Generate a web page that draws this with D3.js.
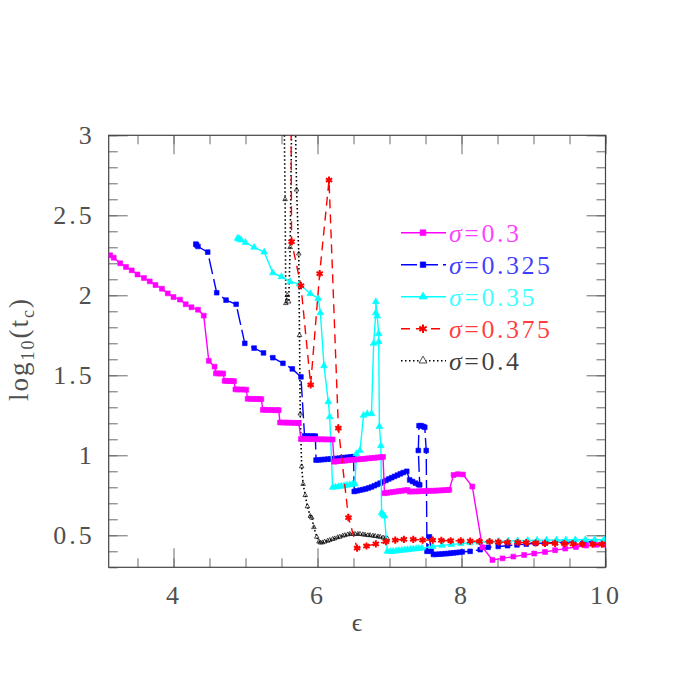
<!DOCTYPE html>
<html>
<head>
<meta charset="utf-8">
<title>log10(tc) vs epsilon</title>
<style>
  body{margin:0;background:#fff;}
  text{font-family:"Liberation Serif",serif;}
</style>
</head>
<body>
<script src="https://d3js.org/d3.v7.min.js"></script>
<script>
// ---- data: [epsilon, log10(tc)] ----
var sigma300 = [[3.12,2.25],[3.17,2.235],[3.26,2.20],[3.34,2.177],[3.42,2.156],[3.50,2.13],[3.59,2.108],[3.67,2.087],
  [3.75,2.064],[3.84,2.041],[3.92,2.012],[4.00,1.989],[4.09,1.973],[4.17,1.944],[4.25,1.925],[4.34,1.91],[4.42,1.873],
  [4.49,1.59],[4.57,1.554],
  [4.59,1.512],[4.62,1.512],[4.65,1.511],[4.69,1.511],
  [4.71,1.465],[4.74,1.465],[4.77,1.464],[4.81,1.464],[4.84,1.463],
  [4.86,1.412],[4.89,1.412],[4.93,1.411],[4.97,1.411],[5.01,1.410],
  [5.03,1.353],[5.07,1.353],[5.11,1.352],[5.15,1.352],[5.19,1.351],[5.22,1.351],
  [5.24,1.284],[5.28,1.284],[5.32,1.283],[5.36,1.283],[5.40,1.282],[5.44,1.282],[5.46,1.282],
  [5.48,1.205],[5.52,1.205],[5.56,1.204],[5.60,1.204],[5.64,1.203],[5.68,1.203],[5.72,1.202],[5.74,1.202],
  [5.77,1.102],[5.81,1.102],[5.85,1.102],[5.89,1.101],[5.93,1.101],[5.97,1.101],[6.01,1.100],[6.05,1.100],
  [6.09,1.100],[6.13,1.099],[6.17,1.099],[6.21,1.099],
  [6.23,0.960],[6.27,0.962],[6.31,0.964],[6.35,0.965],[6.39,0.967],[6.43,0.969],[6.47,0.971],[6.51,0.972],
  [6.55,0.974],[6.59,0.976],[6.63,0.977],[6.67,0.979],[6.71,0.981],[6.75,0.983],[6.79,0.984],[6.83,0.986],
  [6.87,0.988],[6.91,0.990],
  [6.93,0.763],[6.97,0.766],[7.01,0.768],[7.05,0.771],[7.09,0.773],[7.13,0.776],[7.17,0.778],[7.21,0.781],[7.25,0.783],
  [7.28,0.773],[7.32,0.774],[7.36,0.774],[7.40,0.775],[7.44,0.776],[7.48,0.776],[7.52,0.777],[7.56,0.778],
  [7.60,0.778],[7.64,0.779],[7.68,0.780],[7.72,0.781],[7.76,0.782],[7.80,0.783],[7.83,0.784],
  [7.89,0.877],[7.95,0.882],[8.02,0.880],[8.15,0.805],[8.29,0.425],[8.43,0.346],[8.57,0.356],[8.72,0.367],
  [8.87,0.377],[9.01,0.386],[9.16,0.396],[9.30,0.407],[9.44,0.417],[9.59,0.427],[9.73,0.436],[9.87,0.44],[10.0,0.44]];

var sigma325 = [[4.31,2.32],[4.32,2.315],[4.34,2.305],[4.475,2.27],[4.60,2.016],[4.73,1.97],[4.87,1.944],[4.99,1.70],
  [5.12,1.67],[5.25,1.64],[5.38,1.61],[5.52,1.575],[5.65,1.54],[5.77,1.49],
  [5.82,1.121],[5.86,1.121],[5.90,1.120],[5.94,1.120],[5.97,1.120],
  [5.98,0.970],[6.02,0.971],[6.06,0.973],[6.10,0.974],[6.14,0.976],[6.18,0.977],[6.22,0.979],[6.26,0.980],
  [6.30,0.982],[6.34,0.984],[6.38,0.986],[6.42,0.988],[6.46,0.990],[6.50,0.992],
  [6.51,0.774],[6.55,0.778],[6.59,0.782],[6.63,0.786],[6.67,0.790],[6.71,0.796],[6.75,0.802],[6.79,0.810],
  [6.83,0.818],[6.87,0.826],[6.91,0.835],[6.95,0.843],[6.99,0.852],[7.03,0.860],[7.07,0.868],[7.11,0.876],
  [7.15,0.884],[7.19,0.892],[7.24,0.900],
  [7.28,0.846],[7.32,0.836],[7.36,0.826],[7.40,0.818],[7.42,0.815],
  [7.40,1.03],[7.41,1.185],[7.44,1.185],[7.47,1.18],[7.49,1.175],[7.51,1.03],
  [7.52,0.40],[7.555,0.49],[7.58,0.40],
  [7.61,0.380],[7.65,0.381],[7.69,0.382],[7.73,0.383],[7.77,0.385],[7.81,0.386],[7.85,0.388],[7.89,0.390],
  [7.93,0.392],[7.97,0.394],[8.01,0.396],
  [8.12,0.40],[8.26,0.41],[8.37,0.425],[8.51,0.43],[8.64,0.435],[8.77,0.44],[8.90,0.445],[9.03,0.45],
  [9.16,0.452],[9.30,0.455],[9.43,0.457],[9.56,0.458],[9.70,0.46],[9.83,0.46],[9.97,0.46]];

var sigma350 = [[4.89,2.356],[4.905,2.354],[4.92,2.35],[4.94,2.345],[5.00,2.33],[5.12,2.30],[5.26,2.27],[5.38,2.14],
  [5.50,2.116],[5.62,2.085],[5.75,2.07],[5.90,2.01],[6.01,1.98],[6.04,1.89],[6.09,1.56],[6.15,1.335],[6.17,1.24],
  [6.21,0.80],[6.25,0.801],[6.29,0.804],[6.33,0.807],[6.37,0.810],[6.41,0.813],[6.45,0.816],[6.49,0.819],[6.52,0.822],
  [6.54,1.01],[6.59,1.03],[6.64,1.25],[6.69,1.26],[6.75,1.26],[6.78,1.70],[6.81,1.89],[6.81,1.96],[6.83,1.87],
  [6.85,1.76],[6.85,1.71],[6.86,1.18],[6.88,1.06],[6.89,0.64],[6.91,0.63],[6.93,0.62],[6.97,0.40],
  [7.01,0.398],[7.05,0.400],[7.09,0.402],[7.13,0.404],[7.17,0.406],[7.21,0.408],[7.25,0.410],[7.29,0.412],
  [7.33,0.414],[7.37,0.416],[7.41,0.418],[7.45,0.420],
  [7.60,0.43],[7.73,0.437],[7.86,0.443],[7.99,0.448],[8.12,0.453],[8.25,0.457],[8.39,0.460],[8.52,0.462],
  [8.65,0.464],[8.78,0.466],[8.92,0.468],[9.05,0.469],[9.18,0.470],[9.32,0.471],[9.45,0.471],[9.58,0.472],
  [9.72,0.472],[9.85,0.472],[9.98,0.472]];

var sigma375 = [[5.63,3.4],[5.64,2.335],[5.77,2.06],[5.905,1.44],[6.03,2.135],[6.16,2.72],[6.29,1.17],[6.43,0.61],
  [6.55,0.42],[6.68,0.433],[6.81,0.446],[6.95,0.46],[7.08,0.47],[7.20,0.475],[7.33,0.475],[7.46,0.47],[7.60,0.47],
  [7.72,0.468],[7.85,0.466],[7.99,0.465],[8.12,0.464],[8.25,0.462],[8.39,0.46],[8.51,0.458],[8.64,0.456],
  [8.78,0.455],[8.90,0.454],[9.03,0.452],[9.16,0.45],[9.30,0.45],[9.43,0.448],[9.55,0.446],[9.68,0.445],
  [9.82,0.444],[9.95,0.444]];

var sigma400 = [[5.53,3.4],[5.55,2.6],[5.56,1.95],[5.58,2.0],[5.60,1.96],[5.62,2.3],[5.65,3.4],
  [5.68,3.4],[5.71,2.66],[5.74,2.26],[5.75,1.75],[5.76,1.26],[5.77,1.1],[5.78,0.93],[5.80,0.82],[5.83,0.75],
  [5.86,0.68],[5.90,0.62],[5.92,0.61],[5.95,0.55],[5.99,0.49],[6.02,0.46],[6.04,0.454],[6.07,0.455],[6.10,0.46],
  [6.14,0.465],[6.17,0.47],[6.21,0.476],[6.24,0.48],[6.28,0.487],[6.31,0.49],[6.35,0.497],[6.38,0.50],[6.42,0.505],
  [6.45,0.508],[6.49,0.508],[6.52,0.508],[6.56,0.508],[6.59,0.508],[6.63,0.505],[6.66,0.503],[6.70,0.50],
  [6.73,0.50],[6.77,0.497],[6.80,0.495],[6.84,0.492],[6.87,0.49],[6.91,0.485],[6.94,0.482],[6.97,0.48]];

var sigmaLabels = ["0.3", "0.325", "0.35", "0.375", "0.4"];
var xMinor = d3.range(3.5, 10.01, 0.5), xMajor = [4, 6, 8, 10];
var yMinor = d3.range(0.3, 3.001, 0.1), yMajor = [0.5, 1, 1.5, 2, 2.5, 3];

var asterisk = d3.symbolAsterisk || d3.symbolCross;
var series = [
  {data: sigma400, color: "#000000", dash: "1.5,2.5", sym: d3.symbolTriangle, size: 9, fill: "none", sw: 0.7, label: sigmaLabels[4]},
  {data: sigma325, color: "#0000ff", dash: "16,5", sym: d3.symbolSquare, size: 22, fill: "#0000ff", sw: 0.6, label: sigmaLabels[1]},
  {data: sigma350, color: "#00ffff", dash: null, sym: d3.symbolTriangle, size: 20, fill: "#00ffff", sw: 0.6, label: sigmaLabels[2]},
  {data: sigma300, color: "#ff00ff", dash: null, sym: d3.symbolSquare, size: 24, fill: "#ff00ff", sw: 0.6, label: sigmaLabels[0]},
  {data: sigma375, color: "#ff0000", dash: "9,6", sym: asterisk, size: 36, fill: "#ff0000", sw: 2, label: sigmaLabels[3]}
];
var legendOrder = [3, 1, 2, 4, 0];

var width = 692, height = 692;
var x = d3.scaleLinear().domain([3.1, 10]).range([108.7, 605.5]);
var y = d3.scaleLinear().domain([0.3, 3]).range([567.3, 135.3]);

var svg = d3.select("body").append("svg")
  .attr("width", width).attr("height", height)
  .attr("font-family", "Liberation Serif");

svg.append("clipPath").attr("id", "plotclip")
  .append("rect").attr("x", x(3.1)).attr("y", y(3)).attr("width", x(10) - x(3.1)).attr("height", y(0.3) - y(3));

// axes: inward ticks on all four sides
function noLabel() { return ""; }
function styleAxis(g) {
  g.attr("font-family", "Liberation Serif");
  g.select(".domain").remove();
  g.selectAll(".tick line").attr("stroke", "#6a6a6a");
  g.selectAll("text").attr("fill", "#505050").style("font-size", "26px").style("letter-spacing", "3px");
}
svg.append("g").attr("transform", "translate(0," + y(0.3) + ")")
  .call(d3.axisBottom(x).tickValues(xMinor).tickSize(-9).tickFormat(noLabel)).call(styleAxis);
svg.append("g").attr("transform", "translate(0," + y(0.3) + ")")
  .call(d3.axisBottom(x).tickValues(xMajor).tickSize(-19).tickPadding(18).tickFormat(d3.format("d"))).call(styleAxis);
svg.append("g").attr("transform", "translate(0," + y(3) + ")")
  .call(d3.axisTop(x).tickValues(xMinor).tickSize(-9).tickFormat(noLabel)).call(styleAxis);
svg.append("g").attr("transform", "translate(0," + y(3) + ")")
  .call(d3.axisTop(x).tickValues(xMajor).tickSize(-19).tickFormat(noLabel)).call(styleAxis);
svg.append("g").attr("transform", "translate(" + x(3.1) + ",0)")
  .call(d3.axisLeft(y).tickValues(yMinor).tickSize(-9).tickFormat(noLabel)).call(styleAxis);
svg.append("g").attr("transform", "translate(" + x(3.1) + ",0)")
  .call(d3.axisLeft(y).tickValues(yMajor).tickSize(-19).tickPadding(14).tickFormat(d3.format("~g"))).call(styleAxis);
svg.append("g").attr("transform", "translate(" + x(10) + ",0)")
  .call(d3.axisRight(y).tickValues(yMinor).tickSize(-9).tickFormat(noLabel)).call(styleAxis);
svg.append("g").attr("transform", "translate(" + x(10) + ",0)")
  .call(d3.axisRight(y).tickValues(yMajor).tickSize(-19).tickFormat(noLabel)).call(styleAxis);

svg.append("rect")
  .attr("x", x(3.1)).attr("y", y(3)).attr("width", x(10) - x(3.1)).attr("height", y(0.3) - y(3))
  .attr("fill", "none").attr("stroke", "#444").attr("stroke-width", 1.2);

// axis titles
svg.append("text").attr("x", 357).attr("y", 631).attr("text-anchor", "middle")
  .attr("fill", "#505050").style("font-size", "26px").text("\u03f5");

var ylab = svg.append("text").attr("transform", "translate(28,349)rotate(-90)")
  .attr("text-anchor", "middle").attr("fill", "#505050").style("font-size", "27px").style("letter-spacing", "2px");
ylab.append("tspan").text("log");
ylab.append("tspan").attr("dy", 6).style("font-size", "18px").text("10");
ylab.append("tspan").attr("dy", -6).text("(t");
ylab.append("tspan").attr("dy", 6).style("font-size", "18px").text("c");
ylab.append("tspan").attr("dy", -6).text(")");

// curves
var line = d3.line().x(function(d) { return x(d[0]); }).y(function(d) { return y(d[1]); });
var plotArea = svg.append("g").attr("clip-path", "url(#plotclip)");

series.forEach(function(s) {
  plotArea.append("path").datum(s.data)
    .attr("d", line).attr("fill", "none").attr("stroke", s.color)
    .attr("stroke-width", s.color === "#000000" ? 1.6 : 1.4)
    .attr("stroke-dasharray", s.dash);
  plotArea.selectAll(null).data(s.data).enter().append("path")
    .attr("transform", function(d) { return "translate(" + x(d[0]) + "," + y(d[1]) + ")"; })
    .attr("d", d3.symbol().type(s.sym).size(s.size))
    .attr("fill", s.fill).attr("stroke", s.color).attr("stroke-width", s.sw);
});

// legend
legendOrder.forEach(function(idx, i) {
  var s = series[idx], ry = 232.7 + i * 32;
  var g = svg.append("g");
  g.append("line").attr("x1", 401).attr("x2", 446).attr("y1", ry).attr("y2", ry)
    .attr("stroke", s.color).attr("stroke-width", 1.4).attr("stroke-dasharray", s.dash);
  g.append("path").attr("transform", "translate(423," + ry + ")")
    .attr("d", d3.symbol().type(s.sym).size(s.size * (s.fill === "none" ? 3 : 1.4)))
    .attr("fill", s.fill === "none" ? "#fff" : s.fill).attr("stroke", s.color).attr("stroke-width", s.sw);
  var t = g.append("text").attr("x", 449).attr("y", ry + 9)
    .attr("fill", s.color).attr("fill-opacity", 0.75).style("font-size", "26px").style("letter-spacing", "2.5px");
  t.append("tspan").style("font-style", "italic").text("\u03c3");
  t.append("tspan").text("=" + s.label);
});
</script>
</body>
</html>
